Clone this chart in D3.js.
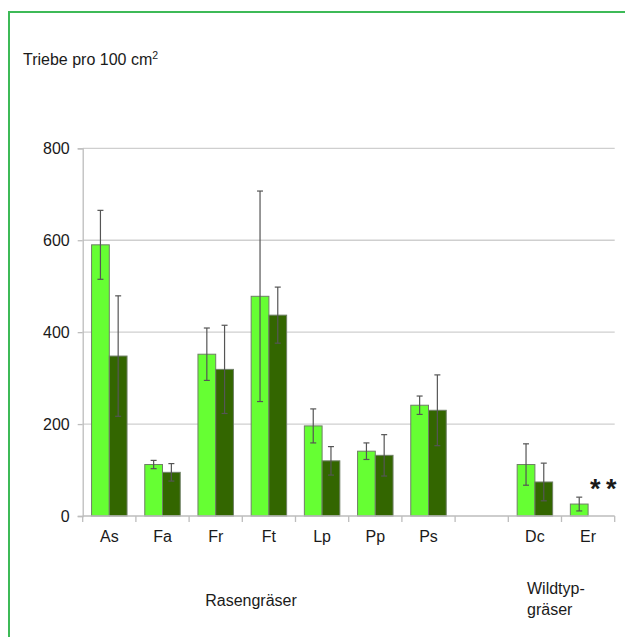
<!DOCTYPE html>
<html>
<head>
<meta charset="utf-8">
<script src="https://cdn.jsdelivr.net/npm/d3@7"></script>
<style>
  html, body { margin: 0; padding: 0; background: #fff; }
  svg { display: block; font-family: "Liberation Sans", Arial, sans-serif; }
</style>
</head>
<body>
<svg id="chart" width="625" height="637"></svg>
<script>
// Shoots per 100 cm² for lawn grasses and wild-type grasses (two treatments)
const categories = ["As", "Fa", "Fr", "Ft", "Lp", "Pp", "Ps", "gap", "Dc", "Er"];
const tickLabels = ["As", "Fa", "Fr", "Ft", "Lp", "Pp", "Ps", "", "Dc", "Er"];
const seriesNames = ["hell", "dunkel"];
const lightValues = [590, 112, 352, 478, 196, 141, 241, null, 112, 26];
const darkValues  = [348, 95, 319, 437, 120, 132, 230, null, 74, null];
const lightErrors = [75, 9, 57, 229, 37, 18, 20, null, 45, 15];
const darkErrors  = [131, 19, 96, 61, 31, 45, 77, null, 41, null];
const yTicks = [0, 200, 400, 600, 800];

const svg = d3.select("#chart");

// frame
svg.append("rect")
  .attr("x", 9).attr("y", 12)
  .attr("width", 640).attr("height", 650)
  .attr("fill", "none")
  .attr("stroke", "#3dba57")
  .attr("stroke-width", 2);

const plotLeft = 82.7, plotRight = 614.7, plotTop = 148.3, plotBottom = 516;

const x = d3.scaleBand().domain(categories).range([plotLeft, plotRight]).paddingInner(0).paddingOuter(0);
const xs = d3.scaleBand().domain(seriesNames).range([0, x.bandwidth()]).paddingInner(0).paddingOuter(0.5);
const y = d3.scaleLinear().domain([0, 800]).range([plotBottom, plotTop]);

// gridlines
svg.append("g")
  .selectAll("line")
  .data(yTicks.filter(d => d > 0))
  .join("line")
  .attr("x1", plotLeft).attr("x2", plotRight)
  .attr("y1", d => y(d)).attr("y2", d => y(d))
  .attr("stroke", "#cfcfcf")
  .attr("stroke-width", 1.3);

// y axis
const yAxis = svg.append("g")
  .attr("transform", `translate(${plotLeft},0)`)
  .call(d3.axisLeft(y).tickValues(yTicks).tickSize(5).tickPadding(8));
yAxis.select(".domain").attr("stroke", "#bdbdbd").attr("stroke-width", 1.3);
yAxis.selectAll(".tick line").attr("stroke", "#bdbdbd").attr("stroke-width", 1.3);
yAxis.selectAll(".tick text").attr("font-size", 16).attr("fill", "#1a1a1a")
  .attr("font-family", "Liberation Sans, Arial, sans-serif");

// bars
const series = [
  { name: "hell", values: lightValues, errors: lightErrors, color: "#66ff33" },
  { name: "dunkel", values: darkValues, errors: darkErrors, color: "#336600" }
];

series.forEach(s => {
  const rows = categories.map((c, i) => ({ c, v: s.values[i], e: s.errors[i] }))
    .filter(d => d.v != null);
  svg.append("g")
    .selectAll("rect")
    .data(rows)
    .join("rect")
    .attr("x", d => x(d.c) + xs(s.name))
    .attr("y", d => y(d.v))
    .attr("width", xs.bandwidth())
    .attr("height", d => y(0) - y(d.v))
    .attr("fill", s.color)
    .attr("stroke", "#6f7f66")
    .attr("stroke-width", 1);
});

// x axis
const xAxis = svg.append("g")
  .attr("transform", `translate(0,${plotBottom})`);
xAxis.append("line")
  .attr("x1", plotLeft).attr("x2", plotRight)
  .attr("y1", 0).attr("y2", 0)
  .attr("stroke", "#bdbdbd").attr("stroke-width", 1.3);
xAxis.selectAll("line.tk")
  .data(categories.map(c => x(c)).concat([plotRight]))
  .join("line")
  .attr("class", "tk")
  .attr("x1", d => d).attr("x2", d => d)
  .attr("y1", 0).attr("y2", 6)
  .attr("stroke", "#bdbdbd").attr("stroke-width", 1.3);
xAxis.selectAll("text")
  .data(categories)
  .join("text")
  .attr("x", d => x(d) + x.bandwidth() / 2)
  .attr("y", 26)
  .attr("text-anchor", "middle")
  .attr("font-size", 16)
  .attr("fill", "#1a1a1a")
  .text((d, i) => tickLabels[i]);

// error bars
series.forEach(s => {
  const rows = categories.map((c, i) => ({ c, v: s.values[i], e: s.errors[i] }))
    .filter(d => d.v != null && d.e != null);
  const g = svg.append("g").attr("stroke", "#555").attr("stroke-width", 1.2);
  rows.forEach(d => {
    const cx = x(d.c) + xs(s.name) + xs.bandwidth() / 2;
    const y1 = y(d.v + d.e), y2 = y(d.v - d.e);
    g.append("line").attr("x1", cx).attr("x2", cx).attr("y1", y1).attr("y2", y2);
    g.append("line").attr("x1", cx - 3).attr("x2", cx + 3).attr("y1", y1).attr("y2", y1);
    g.append("line").attr("x1", cx - 3).attr("x2", cx + 3).attr("y1", y2).attr("y2", y2);
  });
});

// significance marker
svg.append("text")
  .attr("x", 590).attr("y", 498)
  .attr("font-size", 27)
  .attr("font-weight", "bold")
  .attr("letter-spacing", 5.5)
  .attr("fill", "#1a1a1a")
  .text("**");

// y title
const title = svg.append("text")
  .attr("x", 23).attr("y", 65)
  .attr("font-size", 16)
  .attr("fill", "#1a1a1a");
title.append("tspan").text("Triebe pro 100 cm");
title.append("tspan").attr("font-size", 10.5).attr("dy", -6).text("2");

// group labels
svg.append("text")
  .attr("x", 251).attr("y", 606)
  .attr("text-anchor", "middle")
  .attr("font-size", 16)
  .attr("fill", "#1a1a1a")
  .text("Rasengräser");
const wild = svg.append("text")
  .attr("x", 527).attr("y", 594)
  .attr("font-size", 16)
  .attr("fill", "#1a1a1a");
wild.append("tspan").attr("x", 527).text("Wildtyp-");
wild.append("tspan").attr("x", 527).attr("dy", 21).text("gräser");
</script>
</body>
</html>
